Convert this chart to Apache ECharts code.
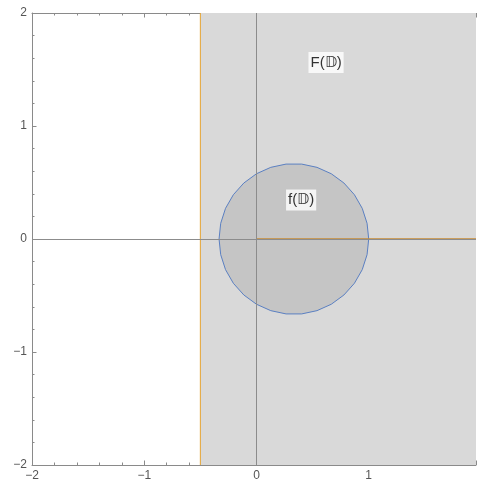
<!DOCTYPE html>
<html>
<head>
<meta charset="utf-8">
<script src="https://cdn.jsdelivr.net/npm/echarts@6/dist/echarts.min.js"></script>
<style>
  html, body { margin: 0; padding: 0; background: #fff; overflow: hidden; }
  #chart { width: 479px; height: 486px; }
</style>
</head>
<body>
<div id="chart"></div>
<script>
// Plot window
const xRange = [-2, 1.956];
const yRange = [-2, 2];

// Half-plane F(D): Re z > -1/2
const halfPlaneEdge = [-0.5];
// Disk f(D): center and radius
const diskCenter = [1 / 3, 0];
const diskRadius = [2 / 3];
// Ray along the positive real axis
const rayStart = [0, 0];

// Region labels: [x, y, text]
const labelPoints = [
  [0.62, 1.562, 'F(𝔻)'],
  [0.398, 0.345, 'f(𝔻)']
];

const FONT = '"Liberation Sans", Arial, sans-serif';
const AXIS = '#8a8a8a';

function diskPolygon(n) {
  const pts = [];
  for (let i = 0; i < n; i++) {
    const t = (2 * Math.PI * i) / n;
    pts.push([diskCenter[0] + diskRadius[0] * Math.cos(t), diskCenter[1] + diskRadius[0] * Math.sin(t)]);
  }
  return pts;
}

function isInt(v) { return Math.abs(v - Math.round(v)) < 1e-6; }
function fmt(v) {
  if (!isInt(v)) return '';
  const r = Math.round(v);
  return r < 0 ? '\u2212' + Math.abs(r) : String(r);
}

function mkX(pos, interval, len, labels, line) {
  return {
    type: 'value', position: pos, min: xRange[0], max: xRange[1], interval: interval,
    axisLine: { show: line, onZero: false, lineStyle: { color: AXIS, width: 1 } },
    axisTick: { show: true, inside: true, length: len, lineStyle: { color: AXIS } },
    axisLabel: { show: labels, formatter: fmt, color: '#555', fontFamily: FONT, fontSize: 12, margin: 5 },
    splitLine: { show: false }
  };
}
function mkY(pos, interval, len, labels, line) {
  return {
    type: 'value', position: pos, min: yRange[0], max: yRange[1], interval: interval,
    axisLine: { show: line, onZero: false, lineStyle: { color: AXIS, width: 1 } },
    axisTick: { show: true, inside: true, length: len, lineStyle: { color: AXIS } },
    axisLabel: { show: labels, formatter: fmt, color: '#555', fontFamily: FONT, fontSize: 12, margin: 5 },
    splitLine: { show: false }
  };
}

function polygonSeries(points, fill, stroke, z) {
  return {
    type: 'custom', coordinateSystem: 'cartesian2d', xAxisIndex: 0, yAxisIndex: 0, z: z,
    silent: true, clip: true,
    data: [0],
    renderItem: function (params, api) {
      return {
        type: 'polygon',
        shape: { points: points.map(p => api.coord(p)) },
        style: { fill: fill, stroke: stroke || 'none', lineWidth: 1 }
      };
    }
  };
}

const chart = echarts.init(document.getElementById('chart'), null, { renderer: 'canvas' });
chart.setOption({
  animation: false,
  backgroundColor: '#fff',
  grid: { left: 32, right: 0, top: 13, bottom: 21, containLabel: false },
  xAxis: [
    mkX('bottom', 0.2, 2.5, true, true),
    mkX('bottom', 1, 4.5, false, false),
    mkX('top', 0.2, 2.5, false, true),
    mkX('top', 1, 4.5, false, false)
  ],
  yAxis: [
    mkY('left', 0.2, 2.5, true, true),
    mkY('left', 1, 4.5, false, false)
  ],
  series: [
    // F(D): half-plane right of Re z = -1/2
    polygonSeries([
      [halfPlaneEdge[0], yRange[0]], [xRange[1], yRange[0]],
      [xRange[1], yRange[1]], [halfPlaneEdge[0], yRange[1]]
    ], '#d9d9d9', null, 1),
    // coordinate axes through the origin
    {
      type: 'line', xAxisIndex: 0, yAxisIndex: 0, z: 2, silent: true,
      data: [],
      markLine: {
        silent: true, symbol: 'none', animation: false, label: { show: false },
        lineStyle: { color: '#8c8c8c', width: 1, type: 'solid' },
        data: [{ xAxis: 0 }, { yAxis: 0 }]
      }
    },
    // f(D): disk
    polygonSeries(diskPolygon(30), 'rgba(120,120,120,0.2)', '#5b80c2', 3),
    // boundary of F(D) and the real ray
    {
      type: 'line', xAxisIndex: 0, yAxisIndex: 0, z: 4, silent: true, symbol: 'none',
      lineStyle: { color: '#e6a331', width: 1 },
      data: [[halfPlaneEdge[0], yRange[0]], [halfPlaneEdge[0], yRange[1]]]
    },
    {
      type: 'line', xAxisIndex: 0, yAxisIndex: 0, z: 4, silent: true, symbol: 'none',
      lineStyle: { color: '#c58a35', width: 1.6 },
      data: [rayStart, [xRange[1], rayStart[1]]]
    },
    // region labels
    {
      type: 'scatter', xAxisIndex: 0, yAxisIndex: 0, z: 6, silent: true,
      symbolSize: 0,
      data: labelPoints.map(p => ({ value: [p[0], p[1]], name: p[2] })),
      label: {
        show: true, position: 'inside', formatter: '{b}',
        color: '#000', fontFamily: FONT, fontSize: 15,
        backgroundColor: '#fff', padding: [3, 2, 3, 2]
      }
    }
  ]
});
</script>
</body>
</html>
